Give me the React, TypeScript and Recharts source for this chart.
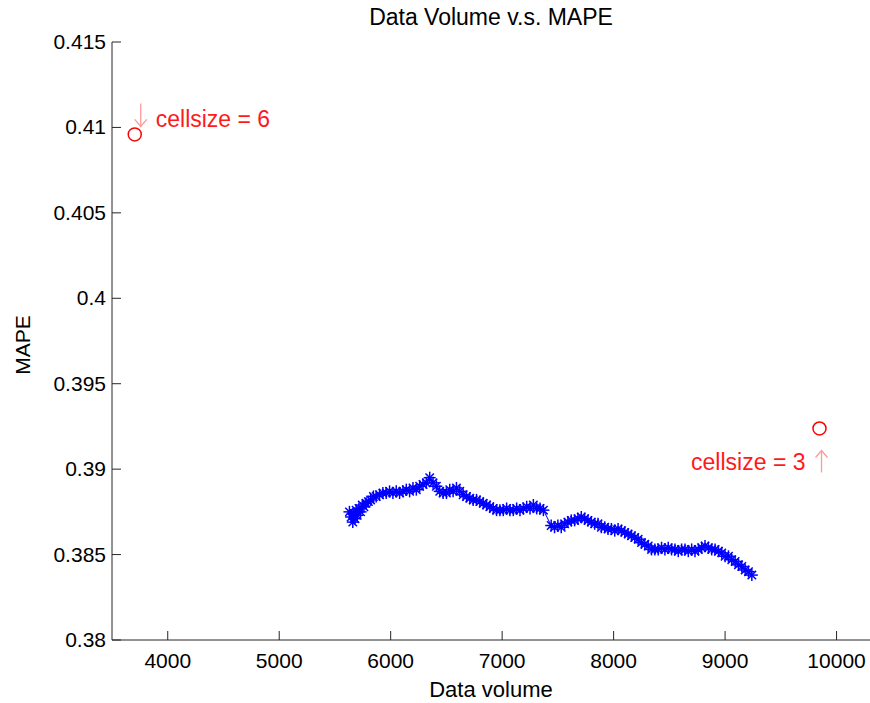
import { Scatter, ScatterChart, XAxis, YAxis } from 'recharts';

// data volume vs MAPE (blue asterisks)
const volume = [
  5630, 5645, 5660, 5670, 5680, 5690, 5700, 5715, 5730, 5745, 5760, 5780, 5800, 5820, 5845, 5870,
  5900, 5930, 5960, 5990, 6020, 6050, 6080, 6110, 6140, 6170, 6200, 6230, 6260, 6290, 6320, 6350,
  6380, 6410, 6440, 6470, 6500, 6530, 6560, 6590, 6620, 6650, 6680, 6710, 6740, 6770, 6800, 6830,
  6860, 6890, 6920, 6950, 6980, 7010, 7040, 7070, 7100, 7130, 7160, 7190, 7220, 7250, 7280, 7310,
  7340, 7370, 7440, 7470, 7500, 7530, 7560, 7590, 7620, 7650, 7680, 7710, 7740, 7770, 7800, 7830,
  7860, 7890, 7920, 7950, 7980, 8010, 8040, 8070, 8100, 8130, 8160, 8190, 8220, 8250, 8280, 8310,
  8340, 8370, 8400, 8430, 8460, 8490, 8520, 8550, 8580, 8610, 8640, 8670, 8700, 8730, 8760, 8790,
  8820, 8850, 8880, 8910, 8940, 8970, 9000, 9030, 9060, 9090, 9120, 9150, 9180, 9210, 9240
];
const mape = [
  0.3875, 0.3872, 0.3869, 0.3874, 0.3871, 0.3876, 0.3873, 0.3877, 0.3875, 0.3879, 0.3878, 0.388, 0.3881, 0.3882, 0.3884, 0.3884,
  0.3885, 0.3886, 0.3886, 0.3887, 0.3886, 0.3887, 0.3886, 0.3887, 0.3888, 0.3887, 0.3889, 0.3888, 0.389, 0.3891, 0.3892, 0.3895,
  0.3892, 0.389, 0.3887, 0.3886, 0.3886, 0.3888, 0.3887, 0.3889, 0.3887, 0.3885, 0.3884, 0.3883, 0.3882, 0.3882, 0.3881, 0.388,
  0.3879, 0.3878, 0.3877, 0.3876, 0.3876, 0.3876, 0.3877, 0.3876, 0.3876, 0.3877, 0.3876, 0.3877, 0.3878, 0.3877, 0.3879, 0.3877,
  0.3877, 0.3876, 0.3867, 0.3866, 0.3867, 0.3866, 0.3868, 0.3869, 0.387, 0.387, 0.3871, 0.3872, 0.3871, 0.387, 0.3869, 0.3868,
  0.3868, 0.3866, 0.3866, 0.3865, 0.3865, 0.3864, 0.3865, 0.3864, 0.3863, 0.3862, 0.3861, 0.386, 0.3859, 0.3857, 0.3856, 0.3855,
  0.3853, 0.3853, 0.3853, 0.3854, 0.3853, 0.3854, 0.3853, 0.3853, 0.3852, 0.3853, 0.3853, 0.3852, 0.3853, 0.3852, 0.3853, 0.3854,
  0.3855, 0.3854, 0.3853, 0.3853, 0.3852, 0.3851, 0.3849, 0.3849, 0.3847, 0.3846, 0.3844, 0.3843, 0.3841, 0.384, 0.3838
];

// the two cellsize reference points
const cellVolume = [3704, 9847];
const cellMape = [0.40959, 0.39238];
const cellLabels = ['cellsize = 6', 'cellsize = 3'];
const cellArrows = ['down', 'up'];

const xTicks = [4000, 5000, 6000, 7000, 8000, 9000, 10000];
const yTicks = [0.38, 0.385, 0.39, 0.395, 0.4, 0.405, 0.41, 0.415];
const yTickLabels = ['0.38', '0.385', '0.39', '0.395', '0.4', '0.405', '0.41', '0.415'];

const FONT = '"Liberation Sans", Arial, sans-serif';
const FS = 21;
const AXIS = '#262626';
const PINK = '#ff9a9a';

const points = volume.map((v, i) => ({ x: v, y: mape[i] }));
const cells = cellVolume.map((v, i) => ({ x: v, y: cellMape[i], label: cellLabels[i], arrow: cellArrows[i] }));

const XTick = (props: any) => {
  const { x, y, payload } = props;
  return (
    <g>
      <line x1={x} x2={x} y1={y} y2={y - 9} stroke={AXIS} />
      <text x={x} y={y + 28} textAnchor="middle" fontSize={FS} fontFamily={FONT} fill="#000">
        {payload.value}
      </text>
    </g>
  );
};

const YTick = (props: any) => {
  const { x, y, payload } = props;
  const idx = yTicks.findIndex((t) => Math.abs(t - payload.value) < 1e-9);
  return (
    <g>
      <line x1={x} x2={x + 9} y1={y} y2={y} stroke={AXIS} />
      <text x={x - 6} y={y + 7} textAnchor="end" fontSize={FS} fontFamily={FONT} fill="#000">
        {idx >= 0 ? yTickLabels[idx] : payload.value}
      </text>
    </g>
  );
};

const Asterisk = (props: any) => {
  const { cx, cy } = props;
  const r = 6;
  const d = 4.2;
  return (
    <g stroke="#0000ff" strokeWidth={1.5}>
      <line x1={cx - r} x2={cx + r} y1={cy} y2={cy} />
      <line x1={cx} x2={cx} y1={cy - r} y2={cy + r} />
      <line x1={cx - d} x2={cx + d} y1={cy - d} y2={cy + d} />
      <line x1={cx - d} x2={cx + d} y1={cy + d} y2={cy - d} />
    </g>
  );
};

const Arrow = ({ x, y1, y2 }: { x: number; y1: number; y2: number }) => {
  // arrow from y1 to y2, head at y2
  const dir = y2 > y1 ? 1 : -1;
  return (
    <g stroke={PINK} strokeWidth={1.3} fill="none">
      <line x1={x} x2={x} y1={y1} y2={y2} />
      <polyline points={`${x - 6},${y2 - dir * 7} ${x},${y2} ${x + 6},${y2 - dir * 7}`} />
    </g>
  );
};

const CellMarker = (props: any) => {
  const { cx, cy, payload } = props;
  const down = payload.arrow === 'down';
  return (
    <g fontFamily={FONT} fontSize={23}>
      <circle cx={cx} cy={cy} r={6.5} fill="none" stroke="#ff0000" strokeWidth={1.5} />
      {down ? (
        <>
          <Arrow x={cx + 6} y1={cy - 31} y2={cy - 8} />
          <text x={cx + 21} y={cy - 7} fill="#ff1a1a">
            {payload.label}
          </text>
        </>
      ) : (
        <>
          <text x={cx - 14} y={cy + 42} textAnchor="end" fill="#ff1a1a">
            {payload.label}
          </text>
          <Arrow x={cx + 2} y1={cy + 44} y2={cy + 22} />
        </>
      )}
    </g>
  );
};

export default function App() {
  return (
    <div style={{ position: 'fixed', left: 0, top: 0, width: 870, height: 703, background: '#fff', fontFamily: FONT }}>
      <div
        style={{
          position: 'absolute',
          left: 112,
          width: 758,
          top: 4,
          textAlign: 'center',
          fontSize: 23,
          lineHeight: '26px',
          color: '#000'
        }}
      >
        Data Volume v.s. MAPE
      </div>
      <ScatterChart width={870} height={703} margin={{ top: 42, right: 0, bottom: 0, left: 0 }} style={{ overflow: 'visible' }}>
        <XAxis
          type="number"
          dataKey="x"
          domain={[3500, 10300]}
          ticks={xTicks}
          interval={0}
          allowDataOverflow
          height={63}
          tickSize={0}
          tickMargin={0}
          tickLine={false}
          tick={<XTick />}
          axisLine={{ stroke: AXIS }}
          label={{
            content: (p: any) => (
              <text
                x={p.viewBox.x + p.viewBox.width / 2}
                y={697}
                textAnchor="middle"
                fontSize={22}
                fontFamily={FONT}
                fill="#000"
              >
                Data volume
              </text>
            )
          }}
        />
        <YAxis
          type="number"
          dataKey="y"
          domain={[0.38, 0.415]}
          ticks={yTicks}
          interval={0}
          allowDataOverflow
          width={112}
          tickSize={0}
          tickMargin={0}
          tickLine={false}
          tick={<YTick />}
          axisLine={{ stroke: AXIS }}
          label={{
            content: (p: any) => {
              const cy = p.viewBox.y + p.viewBox.height / 2 + 4;
              return (
                <text
                  x={22}
                  y={cy}
                  transform={`rotate(-90 22 ${cy})`}
                  textAnchor="middle"
                  dominantBaseline="central"
                  fontSize={FS}
                  fontFamily={FONT}
                  fill="#000"
                >
                  MAPE
                </text>
              );
            }
          }}
        />
        <Scatter
          data={points}
          line={{ stroke: '#0000ff', strokeWidth: 1 }}
          shape={<Asterisk />}
          isAnimationActive={false}
        />
        <Scatter data={cells} shape={<CellMarker />} isAnimationActive={false} />
      </ScatterChart>
    </div>
  );
}
